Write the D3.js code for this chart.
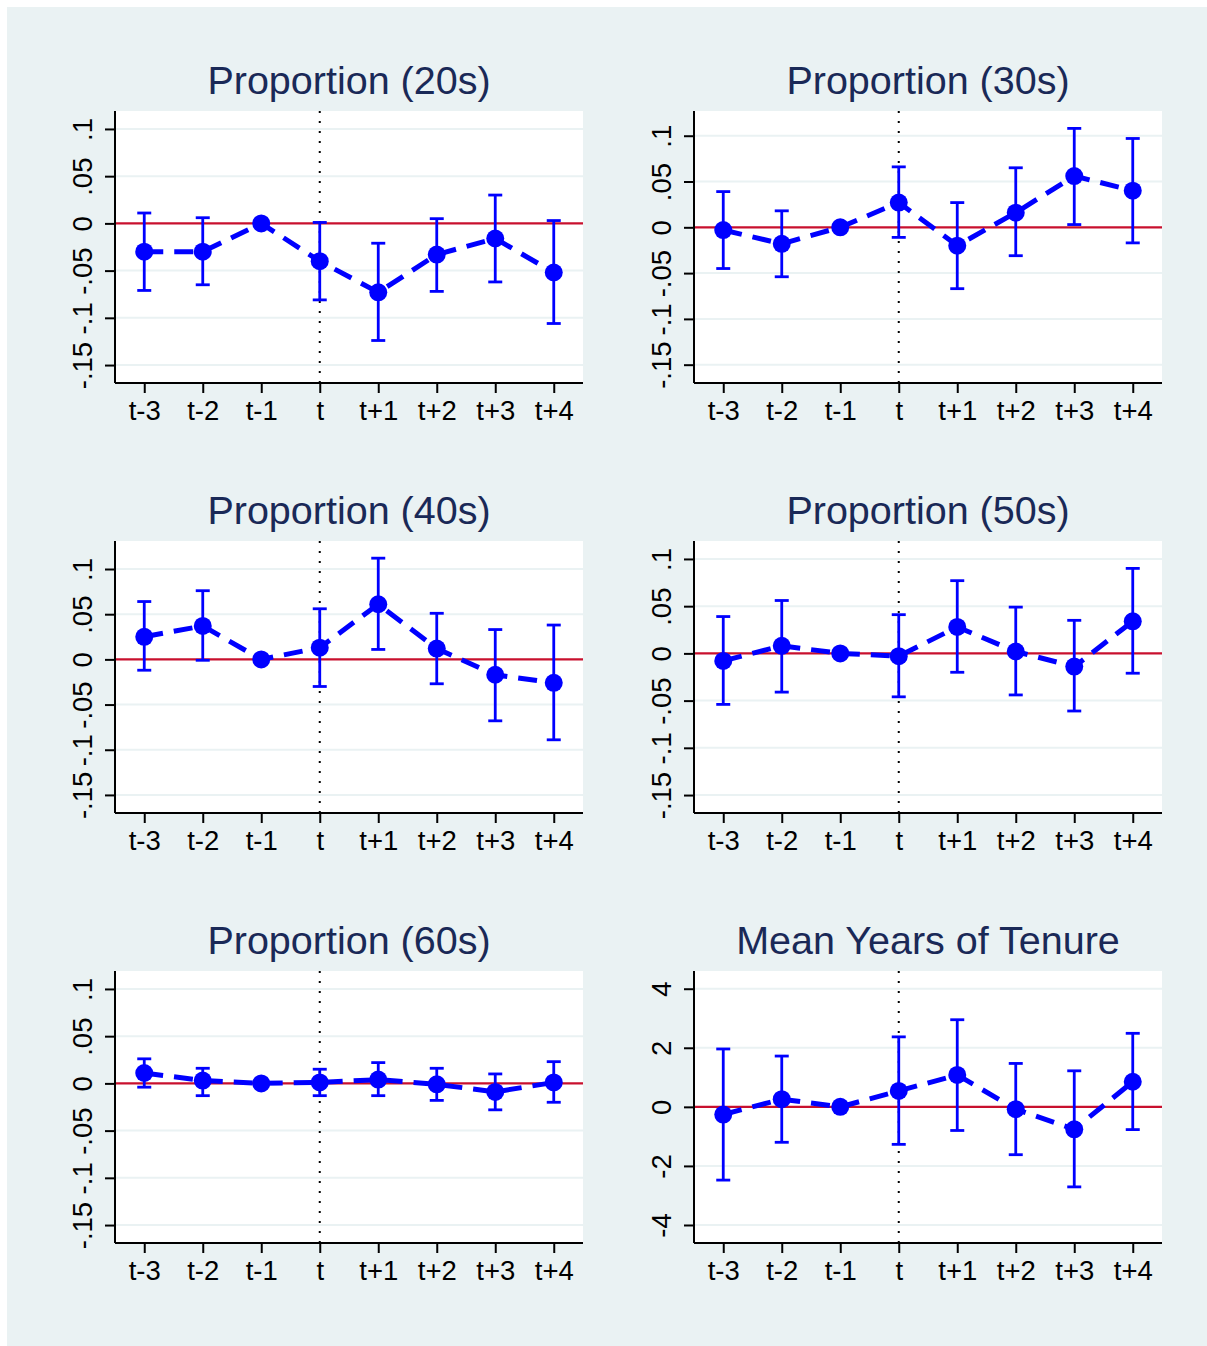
<!DOCTYPE html>
<html>
<head>
<meta charset="utf-8">
<title>Event study panels</title>
<script src="https://d3js.org/d3.v7.min.js"></script>
<style>
  body { margin: 0; background: #fff; }
  svg { display: block; font-family: "Liberation Sans", Arial, sans-serif; }
  .title { fill: #1a2957; font-size: 39.5px; }
  .tick text { font-size: 27.5px; fill: #000; }
</style>
</head>
<body>
<svg width="1207" height="1346"></svg>
<script>
// periods relative to the event
var periods = ["t-3", "t-2", "t-1", "t", "t+1", "t+2", "t+3", "t+4"];

var titles = ["Proportion (20s)", "Proportion (30s)", "Proportion (40s)",
              "Proportion (50s)", "Proportion (60s)", "Mean Years of Tenure"];

// point estimates and 95% bounds, one set per panel
var est20 = [-0.030, -0.030, 0, -0.040, -0.073, -0.033, -0.016, -0.052];
var lo20  = [-0.071, -0.065, null, -0.081, -0.124, -0.072, -0.062, -0.106];
var hi20  = [0.011, 0.006, null, 0.001, -0.021, 0.005, 0.030, 0.003];

var est30 = [-0.003, -0.018, 0, 0.027, -0.020, 0.016, 0.056, 0.040];
var lo30  = [-0.045, -0.054, null, -0.011, -0.067, -0.031, 0.003, -0.017];
var hi30  = [0.039, 0.018, null, 0.066, 0.027, 0.065, 0.108, 0.097];

var est40 = [0.025, 0.037, 0, 0.013, 0.061, 0.012, -0.017, -0.026];
var lo40  = [-0.012, -0.001, null, -0.030, 0.011, -0.027, -0.068, -0.089];
var hi40  = [0.064, 0.076, null, 0.056, 0.112, 0.051, 0.033, 0.038];

var est50 = [-0.008, 0.008, 0, -0.003, 0.028, 0.002, -0.014, 0.034];
var lo50  = [-0.054, -0.041, null, -0.046, -0.020, -0.044, -0.061, -0.021];
var hi50  = [0.039, 0.056, null, 0.041, 0.077, 0.049, 0.035, 0.090];

var est60 = [0.011, 0.003, 0, 0.001, 0.004, -0.001, -0.009, 0.001];
var lo60  = [-0.004, -0.013, null, -0.013, -0.013, -0.018, -0.028, -0.020];
var hi60  = [0.026, 0.016, null, 0.015, 0.022, 0.016, 0.010, 0.023];

var estTen = [-0.26, 0.26, 0, 0.54, 1.08, -0.08, -0.76, 0.85];
var loTen  = [-2.48, -1.20, null, -1.27, -0.80, -1.62, -2.71, -0.77];
var hiTen  = [1.96, 1.72, null, 2.37, 2.95, 1.47, 1.22, 2.49];

// y-axis ticks
var propTicks = [-0.15, -0.1, -0.05, 0, 0.05, 0.1];
var propLabels = ["-.15", "-.1", "-.05", "0", ".05", ".1"];
var tenTicks = [-4, -2, 0, 2, 4];
var tenLabels = ["-4", "-2", "0", "2", "4"];

var panels = [
  { est: est20, lo: lo20, hi: hi20, ticks: propTicks, labels: propLabels, dom: [-0.169, 0.119] },
  { est: est30, lo: lo30, hi: hi30, ticks: propTicks, labels: propLabels, dom: [-0.170, 0.127] },
  { est: est40, lo: lo40, hi: hi40, ticks: propTicks, labels: propLabels, dom: [-0.170, 0.131] },
  { est: est50, lo: lo50, hi: hi50, ticks: propTicks, labels: propLabels, dom: [-0.169, 0.119] },
  { est: est60, lo: lo60, hi: hi60, ticks: propTicks, labels: propLabels, dom: [-0.169, 0.119] },
  { est: estTen, lo: loTen, hi: hiTen, ticks: tenTicks, labels: tenLabels, dom: [-4.61, 4.6] }
];

var svg = d3.select("svg");

// graph background
svg.append("rect").attr("x", 7).attr("y", 7).attr("width", 1200).attr("height", 1339)
   .attr("fill", "#eaf2f3");

var colX = [115, 694], plotW = 468,
    rowY = [111, 541, 971], plotH = 272;

panels.forEach(function(p, i) {
  var x0 = colX[i % 2], y0 = rowY[Math.floor(i / 2)];
  var g = svg.append("g").attr("transform", "translate(" + x0 + "," + y0 + ")");

  var x = d3.scalePoint().domain(periods).range([0, plotW]).padding(0.5);
  var y = d3.scaleLinear().domain(p.dom).range([plotH, 0]);

  g.append("rect").attr("width", plotW).attr("height", plotH).attr("fill", "#fff");

  // gridlines
  g.selectAll(".grid").data(p.ticks.filter(function(d) { return d !== 0; }))
   .enter().append("line")
   .attr("x1", 0).attr("x2", plotW)
   .attr("y1", function(d) { return y(d); }).attr("y2", function(d) { return y(d); })
   .attr("stroke", "#eaf2f3").attr("stroke-width", 2);

  // zero line
  g.append("line").attr("x1", 0).attr("x2", plotW)
   .attr("y1", y(0)).attr("y2", y(0))
   .attr("stroke", "#c8102e").attr("stroke-width", 2.2);

  // event line
  g.append("line").attr("x1", x("t")).attr("x2", x("t"))
   .attr("y1", 0).attr("y2", plotH)
   .attr("stroke", "#000").attr("stroke-width", 2).attr("stroke-dasharray", "2,8");

  // title
  g.append("text").attr("class", "title")
   .attr("x", plotW / 2).attr("y", -17).attr("text-anchor", "middle")
   .text(titles[i]);

  // axes
  var yAxis = g.append("g")
   .call(d3.axisLeft(y).tickValues(p.ticks).tickSize(10)
     .tickFormat(function(d, k) { return p.labels[k]; }));
  yAxis.selectAll(".tick text")
   .attr("x", 0).attr("y", 0).attr("dy", 0)
   .attr("text-anchor", "middle")
   .attr("transform", "translate(-23,0) rotate(-90)");

  var xAxis = g.append("g").attr("transform", "translate(0," + plotH + ")")
   .call(d3.axisBottom(x).tickSize(10));
  xAxis.selectAll(".tick text").attr("dy", "0.71em").attr("y", 17);

  g.selectAll(".domain").attr("stroke", "#000").attr("stroke-width", 2);
  g.selectAll(".tick line").attr("stroke", "#000").attr("stroke-width", 2);
  yAxis.select(".domain").attr("d", "M0,0V" + plotH);
  xAxis.select(".domain").attr("d", "M0,0H" + plotW);

  var rows = periods.map(function(k, j) {
    return { k: k, est: p.est[j], lo: p.lo[j], hi: p.hi[j] };
  });
  var ci = rows.filter(function(d) { return d.lo !== null; });

  // confidence intervals
  var bars = g.append("g").attr("stroke", "#0000ff").attr("stroke-width", 2.8);
  bars.selectAll(".v").data(ci).enter().append("line")
   .attr("x1", function(d) { return x(d.k); }).attr("x2", function(d) { return x(d.k); })
   .attr("y1", function(d) { return y(d.lo); }).attr("y2", function(d) { return y(d.hi); });
  ["lo", "hi"].forEach(function(key) {
    bars.selectAll(".c" + key).data(ci).enter().append("line")
     .attr("x1", function(d) { return x(d.k) - 7; }).attr("x2", function(d) { return x(d.k) + 7; })
     .attr("y1", function(d) { return y(d[key]); }).attr("y2", function(d) { return y(d[key]); });
  });

  // connected estimates
  g.append("path").datum(rows)
   .attr("fill", "none").attr("stroke", "#0000ff").attr("stroke-width", 5)
   .attr("stroke-dasharray", "19,11")
   .attr("d", d3.line().x(function(d) { return x(d.k); }).y(function(d) { return y(d.est); }));

  g.selectAll(".pt").data(rows).enter().append("circle")
   .attr("cx", function(d) { return x(d.k); }).attr("cy", function(d) { return y(d.est); })
   .attr("r", 9).attr("fill", "#0000ff");
});
</script>
</body>
</html>
